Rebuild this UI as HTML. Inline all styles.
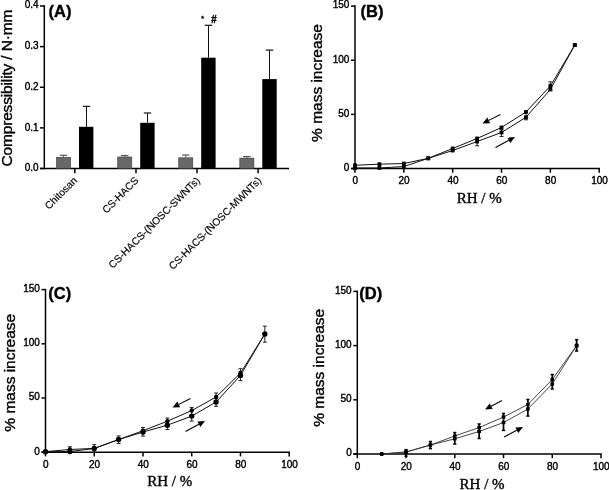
<!DOCTYPE html>
<html><head><meta charset="utf-8"><style>
html,body{margin:0;padding:0;background:#fff;}
body{width:609px;height:490px;overflow:hidden;font-family:"Liberation Sans",sans-serif;}
svg{display:block;will-change:transform;}
</style></head><body>
<svg width="609" height="490" viewBox="0 0 609 490">
<rect width="609" height="490" fill="#fff"/>
<line x1="44.30" y1="5.25" x2="44.30" y2="169.25" stroke="#000" stroke-width="1.5"/>
<line x1="40.00" y1="168.50" x2="289.00" y2="168.50" stroke="#000" stroke-width="1.5"/>
<line x1="40.00" y1="168.50" x2="44.30" y2="168.50" stroke="#000" stroke-width="1.5"/>
<text x="38.60" y="170.70" font-size="10" text-anchor="end" font-family="Liberation Sans, sans-serif" font-weight="normal" fill="#000" stroke="#000" stroke-width="0.38" >0.0</text>
<line x1="40.00" y1="127.88" x2="44.30" y2="127.88" stroke="#000" stroke-width="1.5"/>
<text x="38.60" y="130.88" font-size="10" text-anchor="end" font-family="Liberation Sans, sans-serif" font-weight="normal" fill="#000" stroke="#000" stroke-width="0.38" >0.1</text>
<line x1="40.00" y1="87.25" x2="44.30" y2="87.25" stroke="#000" stroke-width="1.5"/>
<text x="38.60" y="89.85" font-size="10" text-anchor="end" font-family="Liberation Sans, sans-serif" font-weight="normal" fill="#000" stroke="#000" stroke-width="0.38" >0.2</text>
<line x1="40.00" y1="46.62" x2="44.30" y2="46.62" stroke="#000" stroke-width="1.5"/>
<text x="38.60" y="48.82" font-size="10" text-anchor="end" font-family="Liberation Sans, sans-serif" font-weight="normal" fill="#000" stroke="#000" stroke-width="0.38" >0.3</text>
<line x1="40.00" y1="6.00" x2="44.30" y2="6.00" stroke="#000" stroke-width="1.5"/>
<text x="38.60" y="8.20" font-size="10" text-anchor="end" font-family="Liberation Sans, sans-serif" font-weight="normal" fill="#000" stroke="#000" stroke-width="0.38" >0.4</text>
<line x1="74.80" y1="168.50" x2="74.80" y2="173.20" stroke="#000" stroke-width="1.5"/>
<line x1="136.00" y1="168.50" x2="136.00" y2="173.20" stroke="#000" stroke-width="1.5"/>
<line x1="197.00" y1="168.50" x2="197.00" y2="173.20" stroke="#000" stroke-width="1.5"/>
<line x1="258.10" y1="168.50" x2="258.10" y2="173.20" stroke="#000" stroke-width="1.5"/>
<line x1="63.55" y1="155.30" x2="63.55" y2="157.00" stroke="#555" stroke-width="1"/>
<line x1="59.85" y1="155.30" x2="67.25" y2="155.30" stroke="#555" stroke-width="1.2"/>
<rect x="56.50" y="157.30" width="14.1" height="11.20" fill="#686868" stroke="#3a3a3a" stroke-width="0.6"/>
<line x1="86.50" y1="106.40" x2="86.50" y2="126.80" stroke="#111" stroke-width="1.0"/>
<line x1="82.80" y1="106.40" x2="90.20" y2="106.40" stroke="#222" stroke-width="1.3"/>
<rect x="79.00" y="126.80" width="14.4" height="41.70" fill="#000"/>
<line x1="124.75" y1="155.60" x2="124.75" y2="156.70" stroke="#555" stroke-width="1"/>
<line x1="121.05" y1="155.60" x2="128.45" y2="155.60" stroke="#555" stroke-width="1.2"/>
<rect x="117.70" y="157.00" width="14.1" height="11.50" fill="#686868" stroke="#3a3a3a" stroke-width="0.6"/>
<line x1="147.50" y1="113.00" x2="147.50" y2="122.80" stroke="#111" stroke-width="1.0"/>
<line x1="143.80" y1="113.00" x2="151.20" y2="113.00" stroke="#222" stroke-width="1.3"/>
<rect x="140.20" y="122.80" width="14.4" height="45.70" fill="#000"/>
<line x1="185.75" y1="155.00" x2="185.75" y2="157.50" stroke="#555" stroke-width="1"/>
<line x1="182.05" y1="155.00" x2="189.45" y2="155.00" stroke="#555" stroke-width="1.2"/>
<rect x="178.70" y="157.80" width="14.1" height="10.70" fill="#686868" stroke="#3a3a3a" stroke-width="0.6"/>
<line x1="208.50" y1="25.30" x2="208.50" y2="57.70" stroke="#111" stroke-width="1.0"/>
<line x1="204.80" y1="25.30" x2="212.20" y2="25.30" stroke="#222" stroke-width="1.3"/>
<rect x="201.20" y="57.70" width="14.4" height="110.80" fill="#000"/>
<line x1="246.85" y1="156.60" x2="246.85" y2="157.80" stroke="#555" stroke-width="1"/>
<line x1="243.15" y1="156.60" x2="250.55" y2="156.60" stroke="#555" stroke-width="1.2"/>
<rect x="239.80" y="158.10" width="14.1" height="10.40" fill="#686868" stroke="#3a3a3a" stroke-width="0.6"/>
<line x1="269.50" y1="50.10" x2="269.50" y2="79.10" stroke="#111" stroke-width="1.0"/>
<line x1="265.80" y1="50.10" x2="273.20" y2="50.10" stroke="#222" stroke-width="1.3"/>
<rect x="262.30" y="79.10" width="14.4" height="89.40" fill="#000"/>
<text x="77.80" y="181.20" font-size="10.3" text-anchor="end" font-family="Liberation Sans, sans-serif" font-weight="normal" fill="#000" stroke="#000" stroke-width="0.15" transform="rotate(-45 77.80 181.20)">Chitosan</text>
<text x="139.20" y="181.20" font-size="10.3" text-anchor="end" font-family="Liberation Sans, sans-serif" font-weight="normal" fill="#000" stroke="#000" stroke-width="0.15" transform="rotate(-45 139.20 181.20)">CS-HACS</text>
<text x="200.60" y="181.20" font-size="10.3" text-anchor="end" font-family="Liberation Sans, sans-serif" font-weight="normal" fill="#000" stroke="#000" stroke-width="0.15" transform="rotate(-45 200.60 181.20)">CS-HACS-(NOSC-SWNTs)</text>
<text x="262.00" y="181.20" font-size="10.3" text-anchor="end" font-family="Liberation Sans, sans-serif" font-weight="normal" fill="#000" stroke="#000" stroke-width="0.15" transform="rotate(-45 262.00 181.20)">CS-HACS-(NOSC-MWNTs)</text>
<text x="48.50" y="17.30" font-size="16.5" text-anchor="start" font-family="Liberation Sans, sans-serif" font-weight="bold" fill="#000" stroke="#000" stroke-width="0.38" >(A)</text>
<text x="201.00" y="21.00" font-size="8" text-anchor="start" font-family="Liberation Sans, sans-serif" font-weight="normal" fill="#000" stroke="#000" stroke-width="0.38" >*</text>
<text x="211.00" y="22.50" font-size="10" text-anchor="start" font-family="Liberation Sans, sans-serif" font-weight="bold" fill="#000" stroke="#000" stroke-width="0.38" font-style="italic">#</text>
<text x="11.70" y="88.10" font-size="15.5" text-anchor="middle" font-family="Liberation Sans, sans-serif" font-weight="normal" fill="#000" stroke="#000" stroke-width="0.38" transform="rotate(-90 11.7 88.1)" textLength="157" lengthAdjust="spacing">Compressibility / N·mm</text>
<line x1="355.00" y1="5.35" x2="355.00" y2="169.25" stroke="#000" stroke-width="1.5"/>
<line x1="351.00" y1="168.50" x2="599.95" y2="168.50" stroke="#000" stroke-width="1.5"/>
<line x1="351.00" y1="168.50" x2="355.00" y2="168.50" stroke="#000" stroke-width="1.5"/>
<text x="349.40" y="170.80" font-size="10" text-anchor="end" font-family="Liberation Sans, sans-serif" font-weight="normal" fill="#000" stroke="#000" stroke-width="0.38" >0</text>
<line x1="351.00" y1="114.37" x2="355.00" y2="114.37" stroke="#000" stroke-width="1.5"/>
<text x="349.40" y="116.67" font-size="10" text-anchor="end" font-family="Liberation Sans, sans-serif" font-weight="normal" fill="#000" stroke="#000" stroke-width="0.38" >50</text>
<line x1="351.00" y1="60.23" x2="355.00" y2="60.23" stroke="#000" stroke-width="1.5"/>
<text x="349.40" y="62.53" font-size="10" text-anchor="end" font-family="Liberation Sans, sans-serif" font-weight="normal" fill="#000" stroke="#000" stroke-width="0.38" >100</text>
<line x1="351.00" y1="6.10" x2="355.00" y2="6.10" stroke="#000" stroke-width="1.5"/>
<text x="349.40" y="8.40" font-size="10" text-anchor="end" font-family="Liberation Sans, sans-serif" font-weight="normal" fill="#000" stroke="#000" stroke-width="0.38" >150</text>
<line x1="355.00" y1="168.50" x2="355.00" y2="172.70" stroke="#000" stroke-width="1.5"/>
<text x="355.30" y="183.70" font-size="10" text-anchor="middle" font-family="Liberation Sans, sans-serif" font-weight="normal" fill="#000" stroke="#000" stroke-width="0.38" >0</text>
<line x1="403.84" y1="168.50" x2="403.84" y2="172.70" stroke="#000" stroke-width="1.5"/>
<text x="404.14" y="183.70" font-size="10" text-anchor="middle" font-family="Liberation Sans, sans-serif" font-weight="normal" fill="#000" stroke="#000" stroke-width="0.38" >20</text>
<line x1="452.68" y1="168.50" x2="452.68" y2="172.70" stroke="#000" stroke-width="1.5"/>
<text x="452.98" y="183.70" font-size="10" text-anchor="middle" font-family="Liberation Sans, sans-serif" font-weight="normal" fill="#000" stroke="#000" stroke-width="0.38" >40</text>
<line x1="501.52" y1="168.50" x2="501.52" y2="172.70" stroke="#000" stroke-width="1.5"/>
<text x="501.82" y="183.70" font-size="10" text-anchor="middle" font-family="Liberation Sans, sans-serif" font-weight="normal" fill="#000" stroke="#000" stroke-width="0.38" >60</text>
<line x1="550.36" y1="168.50" x2="550.36" y2="172.70" stroke="#000" stroke-width="1.5"/>
<text x="550.66" y="183.70" font-size="10" text-anchor="middle" font-family="Liberation Sans, sans-serif" font-weight="normal" fill="#000" stroke="#000" stroke-width="0.38" >80</text>
<line x1="599.20" y1="168.50" x2="599.20" y2="172.70" stroke="#000" stroke-width="1.5"/>
<text x="599.50" y="183.70" font-size="10" text-anchor="middle" font-family="Liberation Sans, sans-serif" font-weight="normal" fill="#000" stroke="#000" stroke-width="0.38" >100</text>
<text x="479.25" y="202.60" font-size="15" text-anchor="middle" font-family="Liberation Serif, serif" font-weight="normal" fill="#000" stroke="#000" stroke-width="0.38" >RH / %</text>
<text x="322.30" y="83.00" font-size="15.5" text-anchor="middle" font-family="Liberation Sans, sans-serif" font-weight="normal" fill="#000" stroke="#000" stroke-width="0.38" transform="rotate(-90 322.3 83.0)" textLength="117.8" lengthAdjust="spacing">% mass increase</text>
<text x="360.60" y="16.80" font-size="16.5" text-anchor="start" font-family="Liberation Sans, sans-serif" font-weight="bold" fill="#000" stroke="#000" stroke-width="0.38" >(B)</text>
<polyline points="355.00,165.25 379.42,164.17 403.84,163.52 428.26,158.32 452.68,148.47 477.10,138.51 501.52,127.47 525.94,111.98 550.36,86.00 574.78,45.08" fill="none" stroke="#111" stroke-width="1.0"/>
<polyline points="355.00,167.96 379.42,167.96 403.84,166.55 428.26,158.32 452.68,150.53 477.10,141.54 501.52,132.45 525.94,117.29 550.36,89.47 574.78,45.08" fill="none" stroke="#111" stroke-width="1.0"/>
<line x1="477.10" y1="139.27" x2="477.10" y2="145.76" stroke="#222" stroke-width="1.0"/>
<line x1="475.10" y1="139.27" x2="479.10" y2="139.27" stroke="#222" stroke-width="1.0"/>
<line x1="475.10" y1="145.76" x2="479.10" y2="145.76" stroke="#222" stroke-width="1.0"/>
<line x1="501.52" y1="129.52" x2="501.52" y2="136.56" stroke="#222" stroke-width="1.0"/>
<line x1="499.52" y1="129.52" x2="503.52" y2="129.52" stroke="#222" stroke-width="1.0"/>
<line x1="499.52" y1="136.56" x2="503.52" y2="136.56" stroke="#222" stroke-width="1.0"/>
<line x1="525.94" y1="112.20" x2="525.94" y2="119.78" stroke="#222" stroke-width="1.0"/>
<line x1="523.94" y1="112.20" x2="527.94" y2="112.20" stroke="#222" stroke-width="1.0"/>
<line x1="523.94" y1="119.78" x2="527.94" y2="119.78" stroke="#222" stroke-width="1.0"/>
<line x1="550.36" y1="81.89" x2="550.36" y2="90.55" stroke="#222" stroke-width="1.0"/>
<line x1="548.36" y1="81.89" x2="552.36" y2="81.89" stroke="#222" stroke-width="1.0"/>
<line x1="548.36" y1="90.55" x2="552.36" y2="90.55" stroke="#222" stroke-width="1.0"/>
<rect x="353.10" y="163.35" width="3.8" height="3.8" fill="#000"/>
<rect x="377.52" y="162.27" width="3.8" height="3.8" fill="#000"/>
<rect x="401.94" y="161.62" width="3.8" height="3.8" fill="#000"/>
<rect x="426.36" y="156.42" width="3.8" height="3.8" fill="#000"/>
<rect x="450.78" y="146.57" width="3.8" height="3.8" fill="#000"/>
<rect x="475.20" y="136.61" width="3.8" height="3.8" fill="#000"/>
<rect x="499.62" y="125.57" width="3.8" height="3.8" fill="#000"/>
<rect x="524.04" y="110.08" width="3.8" height="3.8" fill="#000"/>
<rect x="548.46" y="84.10" width="3.8" height="3.8" fill="#000"/>
<rect x="572.88" y="43.18" width="3.8" height="3.8" fill="#000"/>
<rect x="353.10" y="166.06" width="3.8" height="3.8" fill="#000"/>
<rect x="377.52" y="166.06" width="3.8" height="3.8" fill="#000"/>
<rect x="401.94" y="164.65" width="3.8" height="3.8" fill="#000"/>
<rect x="426.36" y="156.42" width="3.8" height="3.8" fill="#000"/>
<rect x="450.78" y="148.63" width="3.8" height="3.8" fill="#000"/>
<rect x="475.20" y="139.64" width="3.8" height="3.8" fill="#000"/>
<rect x="499.62" y="130.55" width="3.8" height="3.8" fill="#000"/>
<rect x="524.04" y="115.39" width="3.8" height="3.8" fill="#000"/>
<rect x="548.46" y="87.57" width="3.8" height="3.8" fill="#000"/>
<rect x="572.88" y="43.18" width="3.8" height="3.8" fill="#000"/>
<line x1="500.50" y1="114.50" x2="488.76" y2="120.37" stroke="#000" stroke-width="1.1"/>
<polygon points="482.50,123.50 487.37,117.60 490.15,123.14" fill="#000"/>
<line x1="495.50" y1="147.50" x2="508.84" y2="140.32" stroke="#000" stroke-width="1.1"/>
<polygon points="515.00,137.00 510.31,143.05 507.37,137.59" fill="#000"/>
<line x1="45.50" y1="288.85" x2="45.50" y2="452.95" stroke="#000" stroke-width="1.5"/>
<line x1="41.50" y1="452.20" x2="289.95" y2="452.20" stroke="#000" stroke-width="1.5"/>
<line x1="41.50" y1="452.20" x2="45.50" y2="452.20" stroke="#000" stroke-width="1.5"/>
<text x="39.90" y="454.50" font-size="10" text-anchor="end" font-family="Liberation Sans, sans-serif" font-weight="normal" fill="#000" stroke="#000" stroke-width="0.38" >0</text>
<line x1="41.50" y1="398.00" x2="45.50" y2="398.00" stroke="#000" stroke-width="1.5"/>
<text x="39.90" y="400.30" font-size="10" text-anchor="end" font-family="Liberation Sans, sans-serif" font-weight="normal" fill="#000" stroke="#000" stroke-width="0.38" >50</text>
<line x1="41.50" y1="343.80" x2="45.50" y2="343.80" stroke="#000" stroke-width="1.5"/>
<text x="39.90" y="346.10" font-size="10" text-anchor="end" font-family="Liberation Sans, sans-serif" font-weight="normal" fill="#000" stroke="#000" stroke-width="0.38" >100</text>
<line x1="41.50" y1="289.60" x2="45.50" y2="289.60" stroke="#000" stroke-width="1.5"/>
<text x="39.90" y="291.90" font-size="10" text-anchor="end" font-family="Liberation Sans, sans-serif" font-weight="normal" fill="#000" stroke="#000" stroke-width="0.38" >150</text>
<line x1="45.50" y1="452.20" x2="45.50" y2="456.40" stroke="#000" stroke-width="1.5"/>
<text x="45.80" y="468.10" font-size="10" text-anchor="middle" font-family="Liberation Sans, sans-serif" font-weight="normal" fill="#000" stroke="#000" stroke-width="0.38" >0</text>
<line x1="94.24" y1="452.20" x2="94.24" y2="456.40" stroke="#000" stroke-width="1.5"/>
<text x="94.54" y="468.10" font-size="10" text-anchor="middle" font-family="Liberation Sans, sans-serif" font-weight="normal" fill="#000" stroke="#000" stroke-width="0.38" >20</text>
<line x1="142.98" y1="452.20" x2="142.98" y2="456.40" stroke="#000" stroke-width="1.5"/>
<text x="143.28" y="468.10" font-size="10" text-anchor="middle" font-family="Liberation Sans, sans-serif" font-weight="normal" fill="#000" stroke="#000" stroke-width="0.38" >40</text>
<line x1="191.72" y1="452.20" x2="191.72" y2="456.40" stroke="#000" stroke-width="1.5"/>
<text x="192.02" y="468.10" font-size="10" text-anchor="middle" font-family="Liberation Sans, sans-serif" font-weight="normal" fill="#000" stroke="#000" stroke-width="0.38" >60</text>
<line x1="240.46" y1="452.20" x2="240.46" y2="456.40" stroke="#000" stroke-width="1.5"/>
<text x="240.76" y="468.10" font-size="10" text-anchor="middle" font-family="Liberation Sans, sans-serif" font-weight="normal" fill="#000" stroke="#000" stroke-width="0.38" >80</text>
<line x1="289.20" y1="452.20" x2="289.20" y2="456.40" stroke="#000" stroke-width="1.5"/>
<text x="289.50" y="468.10" font-size="10" text-anchor="middle" font-family="Liberation Sans, sans-serif" font-weight="normal" fill="#000" stroke="#000" stroke-width="0.38" >100</text>
<text x="169.65" y="486.30" font-size="15" text-anchor="middle" font-family="Liberation Serif, serif" font-weight="normal" fill="#000" stroke="#000" stroke-width="0.38" >RH / %</text>
<text x="15.30" y="372.75" font-size="15.5" text-anchor="middle" font-family="Liberation Sans, sans-serif" font-weight="normal" fill="#000" stroke="#000" stroke-width="0.38" transform="rotate(-90 15.3 372.75)" textLength="117.8" lengthAdjust="spacing">% mass increase</text>
<text x="48.30" y="299.30" font-size="16.5" text-anchor="start" font-family="Liberation Sans, sans-serif" font-weight="bold" fill="#000" stroke="#000" stroke-width="0.38" >(C)</text>
<polyline points="45.50,451.66 69.87,449.49 94.24,448.41 118.61,439.52 142.98,430.74 167.35,421.20 191.72,410.57 216.09,397.02 240.46,373.07 264.83,334.04" fill="none" stroke="#111" stroke-width="1.0"/>
<polyline points="45.50,451.66 69.87,451.55 94.24,448.51 118.61,439.52 142.98,432.04 167.35,425.21 191.72,416.10 216.09,402.01 240.46,375.45 264.83,334.04" fill="none" stroke="#111" stroke-width="1.0"/>
<line x1="69.87" y1="446.78" x2="69.87" y2="452.20" stroke="#222" stroke-width="1.0"/>
<line x1="67.87" y1="446.78" x2="71.87" y2="446.78" stroke="#222" stroke-width="1.0"/>
<line x1="67.87" y1="452.20" x2="71.87" y2="452.20" stroke="#222" stroke-width="1.0"/>
<line x1="94.24" y1="444.61" x2="94.24" y2="452.20" stroke="#222" stroke-width="1.0"/>
<line x1="92.24" y1="444.61" x2="96.24" y2="444.61" stroke="#222" stroke-width="1.0"/>
<line x1="92.24" y1="452.20" x2="96.24" y2="452.20" stroke="#222" stroke-width="1.0"/>
<line x1="118.61" y1="435.94" x2="118.61" y2="443.53" stroke="#222" stroke-width="1.0"/>
<line x1="116.61" y1="435.94" x2="120.61" y2="435.94" stroke="#222" stroke-width="1.0"/>
<line x1="116.61" y1="443.53" x2="120.61" y2="443.53" stroke="#222" stroke-width="1.0"/>
<line x1="142.98" y1="427.59" x2="142.98" y2="436.05" stroke="#222" stroke-width="1.0"/>
<line x1="140.98" y1="427.59" x2="144.98" y2="427.59" stroke="#222" stroke-width="1.0"/>
<line x1="140.98" y1="436.05" x2="144.98" y2="436.05" stroke="#222" stroke-width="1.0"/>
<line x1="167.35" y1="418.05" x2="167.35" y2="429.54" stroke="#222" stroke-width="1.0"/>
<line x1="165.35" y1="418.05" x2="169.35" y2="418.05" stroke="#222" stroke-width="1.0"/>
<line x1="165.35" y1="429.54" x2="169.35" y2="429.54" stroke="#222" stroke-width="1.0"/>
<line x1="191.72" y1="407.43" x2="191.72" y2="421.09" stroke="#222" stroke-width="1.0"/>
<line x1="189.72" y1="407.43" x2="193.72" y2="407.43" stroke="#222" stroke-width="1.0"/>
<line x1="189.72" y1="421.09" x2="193.72" y2="421.09" stroke="#222" stroke-width="1.0"/>
<line x1="216.09" y1="393.01" x2="216.09" y2="406.35" stroke="#222" stroke-width="1.0"/>
<line x1="214.09" y1="393.01" x2="218.09" y2="393.01" stroke="#222" stroke-width="1.0"/>
<line x1="214.09" y1="406.35" x2="218.09" y2="406.35" stroke="#222" stroke-width="1.0"/>
<line x1="240.46" y1="368.73" x2="240.46" y2="380.66" stroke="#222" stroke-width="1.0"/>
<line x1="238.46" y1="368.73" x2="242.46" y2="368.73" stroke="#222" stroke-width="1.0"/>
<line x1="238.46" y1="380.66" x2="242.46" y2="380.66" stroke="#222" stroke-width="1.0"/>
<line x1="264.83" y1="326.13" x2="264.83" y2="342.17" stroke="#222" stroke-width="1.0"/>
<line x1="262.83" y1="326.13" x2="266.83" y2="326.13" stroke="#222" stroke-width="1.0"/>
<line x1="262.83" y1="342.17" x2="266.83" y2="342.17" stroke="#222" stroke-width="1.0"/>
<circle cx="45.50" cy="451.66" r="2.2" fill="#000"/>
<circle cx="69.87" cy="449.49" r="2.2" fill="#000"/>
<circle cx="94.24" cy="448.41" r="2.2" fill="#000"/>
<circle cx="118.61" cy="439.52" r="2.2" fill="#000"/>
<circle cx="142.98" cy="430.74" r="2.2" fill="#000"/>
<circle cx="167.35" cy="421.20" r="2.2" fill="#000"/>
<circle cx="191.72" cy="410.57" r="2.2" fill="#000"/>
<circle cx="216.09" cy="397.02" r="2.2" fill="#000"/>
<circle cx="240.46" cy="373.07" r="2.2" fill="#000"/>
<circle cx="264.83" cy="334.04" r="2.2" fill="#000"/>
<circle cx="45.50" cy="451.66" r="2.7" fill="#000"/>
<circle cx="69.87" cy="451.55" r="2.7" fill="#000"/>
<circle cx="94.24" cy="448.51" r="2.7" fill="#000"/>
<circle cx="118.61" cy="439.52" r="2.7" fill="#000"/>
<circle cx="142.98" cy="432.04" r="2.7" fill="#000"/>
<circle cx="167.35" cy="425.21" r="2.7" fill="#000"/>
<circle cx="191.72" cy="416.10" r="2.7" fill="#000"/>
<circle cx="216.09" cy="402.01" r="2.7" fill="#000"/>
<circle cx="240.46" cy="375.45" r="2.7" fill="#000"/>
<circle cx="264.83" cy="334.04" r="2.7" fill="#000"/>
<line x1="190.50" y1="398.50" x2="178.76" y2="404.37" stroke="#000" stroke-width="1.1"/>
<polygon points="172.50,407.50 177.37,401.60 180.15,407.14" fill="#000"/>
<line x1="185.50" y1="431.50" x2="198.84" y2="424.32" stroke="#000" stroke-width="1.1"/>
<polygon points="205.00,421.00 200.31,427.05 197.37,421.59" fill="#000"/>
<line x1="357.30" y1="290.65" x2="357.30" y2="454.75" stroke="#000" stroke-width="1.5"/>
<line x1="353.30" y1="454.00" x2="601.75" y2="454.00" stroke="#000" stroke-width="1.5"/>
<line x1="353.30" y1="454.00" x2="357.30" y2="454.00" stroke="#000" stroke-width="1.5"/>
<text x="351.70" y="456.30" font-size="10" text-anchor="end" font-family="Liberation Sans, sans-serif" font-weight="normal" fill="#000" stroke="#000" stroke-width="0.38" >0</text>
<line x1="353.30" y1="399.80" x2="357.30" y2="399.80" stroke="#000" stroke-width="1.5"/>
<text x="351.70" y="402.10" font-size="10" text-anchor="end" font-family="Liberation Sans, sans-serif" font-weight="normal" fill="#000" stroke="#000" stroke-width="0.38" >50</text>
<line x1="353.30" y1="345.60" x2="357.30" y2="345.60" stroke="#000" stroke-width="1.5"/>
<text x="351.70" y="347.90" font-size="10" text-anchor="end" font-family="Liberation Sans, sans-serif" font-weight="normal" fill="#000" stroke="#000" stroke-width="0.38" >100</text>
<line x1="353.30" y1="291.40" x2="357.30" y2="291.40" stroke="#000" stroke-width="1.5"/>
<text x="351.70" y="293.70" font-size="10" text-anchor="end" font-family="Liberation Sans, sans-serif" font-weight="normal" fill="#000" stroke="#000" stroke-width="0.38" >150</text>
<line x1="357.30" y1="454.00" x2="357.30" y2="458.20" stroke="#000" stroke-width="1.5"/>
<text x="357.60" y="470.10" font-size="10" text-anchor="middle" font-family="Liberation Sans, sans-serif" font-weight="normal" fill="#000" stroke="#000" stroke-width="0.38" >0</text>
<line x1="406.04" y1="454.00" x2="406.04" y2="458.20" stroke="#000" stroke-width="1.5"/>
<text x="406.34" y="470.10" font-size="10" text-anchor="middle" font-family="Liberation Sans, sans-serif" font-weight="normal" fill="#000" stroke="#000" stroke-width="0.38" >20</text>
<line x1="454.78" y1="454.00" x2="454.78" y2="458.20" stroke="#000" stroke-width="1.5"/>
<text x="455.08" y="470.10" font-size="10" text-anchor="middle" font-family="Liberation Sans, sans-serif" font-weight="normal" fill="#000" stroke="#000" stroke-width="0.38" >40</text>
<line x1="503.52" y1="454.00" x2="503.52" y2="458.20" stroke="#000" stroke-width="1.5"/>
<text x="503.82" y="470.10" font-size="10" text-anchor="middle" font-family="Liberation Sans, sans-serif" font-weight="normal" fill="#000" stroke="#000" stroke-width="0.38" >60</text>
<line x1="552.26" y1="454.00" x2="552.26" y2="458.20" stroke="#000" stroke-width="1.5"/>
<text x="552.56" y="470.10" font-size="10" text-anchor="middle" font-family="Liberation Sans, sans-serif" font-weight="normal" fill="#000" stroke="#000" stroke-width="0.38" >80</text>
<line x1="601.00" y1="454.00" x2="601.00" y2="458.20" stroke="#000" stroke-width="1.5"/>
<text x="601.30" y="470.10" font-size="10" text-anchor="middle" font-family="Liberation Sans, sans-serif" font-weight="normal" fill="#000" stroke="#000" stroke-width="0.38" >100</text>
<text x="482.10" y="488.90" font-size="15" text-anchor="middle" font-family="Liberation Serif, serif" font-weight="normal" fill="#000" stroke="#000" stroke-width="0.38" >RH / %</text>
<text x="324.50" y="367.80" font-size="15.5" text-anchor="middle" font-family="Liberation Sans, sans-serif" font-weight="normal" fill="#000" stroke="#000" stroke-width="0.38" transform="rotate(-90 324.5 367.8)" textLength="117.8" lengthAdjust="spacing">% mass increase</text>
<text x="359.30" y="299.00" font-size="16.5" text-anchor="start" font-family="Liberation Sans, sans-serif" font-weight="bold" fill="#000" stroke="#000" stroke-width="0.38" >(D)</text>
<polyline points="381.67,454.00 406.04,452.05 430.41,445.00 454.78,436.01 479.15,427.55 503.52,417.04 527.89,404.46 552.26,379.53 576.63,345.60" fill="none" stroke="#333" stroke-width="0.9"/>
<polyline points="381.67,454.00 406.04,452.05 430.41,445.00 454.78,438.82 479.15,431.45 503.52,422.56 527.89,409.01 552.26,383.97 576.63,345.60" fill="none" stroke="#333" stroke-width="0.9"/>
<line x1="406.04" y1="449.66" x2="406.04" y2="456.17" stroke="#000" stroke-width="1.7"/>
<line x1="404.44" y1="449.66" x2="407.64" y2="449.66" stroke="#000" stroke-width="1.5"/>
<line x1="404.44" y1="456.17" x2="407.64" y2="456.17" stroke="#000" stroke-width="1.5"/>
<line x1="430.41" y1="441.53" x2="430.41" y2="448.58" stroke="#000" stroke-width="1.7"/>
<line x1="428.81" y1="441.53" x2="432.01" y2="441.53" stroke="#000" stroke-width="1.5"/>
<line x1="428.81" y1="448.58" x2="432.01" y2="448.58" stroke="#000" stroke-width="1.5"/>
<line x1="454.78" y1="432.54" x2="454.78" y2="444.03" stroke="#000" stroke-width="1.7"/>
<line x1="453.18" y1="432.54" x2="456.38" y2="432.54" stroke="#000" stroke-width="1.5"/>
<line x1="453.18" y1="444.03" x2="456.38" y2="444.03" stroke="#000" stroke-width="1.5"/>
<line x1="479.15" y1="423.97" x2="479.15" y2="438.50" stroke="#000" stroke-width="1.7"/>
<line x1="477.55" y1="423.97" x2="480.75" y2="423.97" stroke="#000" stroke-width="1.5"/>
<line x1="477.55" y1="438.50" x2="480.75" y2="438.50" stroke="#000" stroke-width="1.5"/>
<line x1="503.52" y1="413.46" x2="503.52" y2="430.37" stroke="#000" stroke-width="1.7"/>
<line x1="501.92" y1="413.46" x2="505.12" y2="413.46" stroke="#000" stroke-width="1.5"/>
<line x1="501.92" y1="430.37" x2="505.12" y2="430.37" stroke="#000" stroke-width="1.5"/>
<line x1="527.89" y1="399.47" x2="527.89" y2="416.06" stroke="#000" stroke-width="1.7"/>
<line x1="526.29" y1="399.47" x2="529.49" y2="399.47" stroke="#000" stroke-width="1.5"/>
<line x1="526.29" y1="416.06" x2="529.49" y2="416.06" stroke="#000" stroke-width="1.5"/>
<line x1="552.26" y1="374.54" x2="552.26" y2="388.96" stroke="#000" stroke-width="1.7"/>
<line x1="550.66" y1="374.54" x2="553.86" y2="374.54" stroke="#000" stroke-width="1.5"/>
<line x1="550.66" y1="388.96" x2="553.86" y2="388.96" stroke="#000" stroke-width="1.5"/>
<line x1="576.63" y1="339.64" x2="576.63" y2="351.02" stroke="#000" stroke-width="1.7"/>
<line x1="575.03" y1="339.64" x2="578.23" y2="339.64" stroke="#000" stroke-width="1.5"/>
<line x1="575.03" y1="351.02" x2="578.23" y2="351.02" stroke="#000" stroke-width="1.5"/>
<rect x="379.87" y="452.20" width="3.6" height="3.6" rx="0.7" fill="#000"/>
<rect x="404.24" y="450.25" width="3.6" height="3.6" rx="0.7" fill="#000"/>
<rect x="428.61" y="443.20" width="3.6" height="3.6" rx="0.7" fill="#000"/>
<rect x="452.98" y="434.21" width="3.6" height="3.6" rx="0.7" fill="#000"/>
<rect x="477.35" y="425.75" width="3.6" height="3.6" rx="0.7" fill="#000"/>
<rect x="501.72" y="415.24" width="3.6" height="3.6" rx="0.7" fill="#000"/>
<rect x="526.09" y="402.66" width="3.6" height="3.6" rx="0.7" fill="#000"/>
<rect x="550.46" y="377.73" width="3.6" height="3.6" rx="0.7" fill="#000"/>
<rect x="574.83" y="343.80" width="3.6" height="3.6" rx="0.7" fill="#000"/>
<rect x="379.87" y="452.20" width="3.6" height="3.6" rx="0.7" fill="#000"/>
<rect x="404.24" y="450.25" width="3.6" height="3.6" rx="0.7" fill="#000"/>
<rect x="428.61" y="443.20" width="3.6" height="3.6" rx="0.7" fill="#000"/>
<rect x="452.98" y="437.02" width="3.6" height="3.6" rx="0.7" fill="#000"/>
<rect x="477.35" y="429.65" width="3.6" height="3.6" rx="0.7" fill="#000"/>
<rect x="501.72" y="420.76" width="3.6" height="3.6" rx="0.7" fill="#000"/>
<rect x="526.09" y="407.21" width="3.6" height="3.6" rx="0.7" fill="#000"/>
<rect x="550.46" y="382.17" width="3.6" height="3.6" rx="0.7" fill="#000"/>
<rect x="574.83" y="343.80" width="3.6" height="3.6" rx="0.7" fill="#000"/>
<line x1="502.00" y1="400.50" x2="491.19" y2="406.22" stroke="#000" stroke-width="1.1"/>
<polygon points="485.00,409.50 489.74,403.49 492.64,408.96" fill="#000"/>
<line x1="504.00" y1="437.00" x2="516.81" y2="430.26" stroke="#000" stroke-width="1.1"/>
<polygon points="523.00,427.00 518.25,433.00 515.36,427.52" fill="#000"/>
</svg>
</body></html>
